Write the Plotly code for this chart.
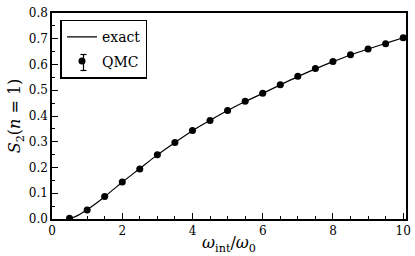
import plotly.graph_objects as go

# QMC data
qmc_x = [0.5, 1.0, 1.5, 2.0, 2.5, 3.0, 3.5, 4.0, 4.5, 5.0, 5.5, 6.0, 6.5, 7.0, 7.5, 8.0, 8.5, 9.0, 9.5, 10.0]
qmc_y = [0.003, 0.035, 0.087, 0.144, 0.194, 0.250, 0.297, 0.344, 0.383, 0.421, 0.457, 0.488, 0.521, 0.554, 0.584, 0.612, 0.638, 0.660, 0.681, 0.704]
qmc_err = [0.002] * len(qmc_x)

# exact curve
exact_x = [0.45, 0.6, 0.75, 1.0, 1.25, 1.5, 1.75, 2.0, 2.5, 3.0, 3.5, 4.0, 4.5, 5.0, 5.5, 6.0, 6.5, 7.0, 7.5, 8.0, 8.5, 9.0, 9.5, 10.0]
exact_y = [0.0, 0.006, 0.015, 0.036, 0.060, 0.087, 0.115, 0.143, 0.196, 0.249, 0.297, 0.343, 0.383, 0.421, 0.456, 0.488, 0.521, 0.553, 0.583, 0.611, 0.637, 0.660, 0.682, 0.704]

FONT = "DejaVu Serif"

fig = go.Figure()
fig.add_trace(go.Scatter(x=exact_x, y=exact_y, mode="lines", name="exact",
                         line=dict(color="black", width=1.2, shape="spline"),
                         legendgroup="a"))
fig.add_trace(go.Scatter(x=qmc_x, y=qmc_y, mode="markers", name="QMC",
                         marker=dict(color="black", size=7),
                         error_y=dict(type="data", array=qmc_err, color="black", thickness=1, width=3),
                         legendgroup="b"))

axis_common = dict(showline=True, linecolor="black", linewidth=1.5, mirror=True,
                   ticks="inside", ticklen=6, tickwidth=1.2, tickcolor="black",
                   showgrid=False, zeroline=False, automargin=False,
                   tickfont=dict(family=FONT, size=12, color="black"))

fig.update_xaxes(range=[0, 10.08], tickvals=[0, 2, 4, 6, 8, 10],
                 minor=dict(dtick=0.5, tick0=0, ticks="inside", ticklen=3, tickwidth=1, tickcolor="black"),
                 title=dict(text="<i>ω</i><sub>int</sub>/<i>ω</i><sub>0</sub>", font=dict(family=FONT, size=16, color="black"), standoff=0),
                 **axis_common)
fig.update_yaxes(range=[0, 0.8], dtick=0.1, tickformat=".1f",
                 minor=dict(dtick=0.05, tick0=0, ticks="inside", ticklen=3, tickwidth=1, tickcolor="black"),
                 title=dict(text="<i>S</i><sub>2</sub>(<i>n</i> = 1)", font=dict(family=FONT, size=16, color="black"), standoff=4),
                 **axis_common)

# legend error-bar glyph for QMC (pixel -> paper conversion of the legend area)
def px(xp):
    return (xp - 52) / 354.0
def py(yp):
    return (219 - yp) / 206.0

gx, gy = 83.5, 62.5
glyph = [
    dict(x0=px(gx), x1=px(gx), y0=py(gy - 8), y1=py(gy + 8)),
    dict(x0=px(gx - 3), x1=px(gx + 3), y0=py(gy - 8), y1=py(gy - 8)),
    dict(x0=px(gx - 3), x1=px(gx + 3), y0=py(gy + 8), y1=py(gy + 8)),
]
shapes = [dict(type="line", xref="paper", yref="paper", line=dict(color="black", width=1.2), layer="above", **g) for g in glyph]

fig.update_layout(
    width=415, height=256,
    margin=dict(l=52, r=9, t=13, b=37),
    plot_bgcolor="white", paper_bgcolor="white",
    font=dict(family=FONT, color="black"),
    legend=dict(x=0.024, y=0.967, xanchor="left", yanchor="top",
                bgcolor="rgba(0,0,0,0)", bordercolor="black", borderwidth=1.5,
                font=dict(family=FONT, size=14, color="black"),
                tracegroupgap=3, itemwidth=30),
    shapes=shapes,
    showlegend=True,
)

fig.write_html("out.html", config={"displayModeBar": False},
               post_script="document.body.style.margin='0';document.body.style.padding='0';")
